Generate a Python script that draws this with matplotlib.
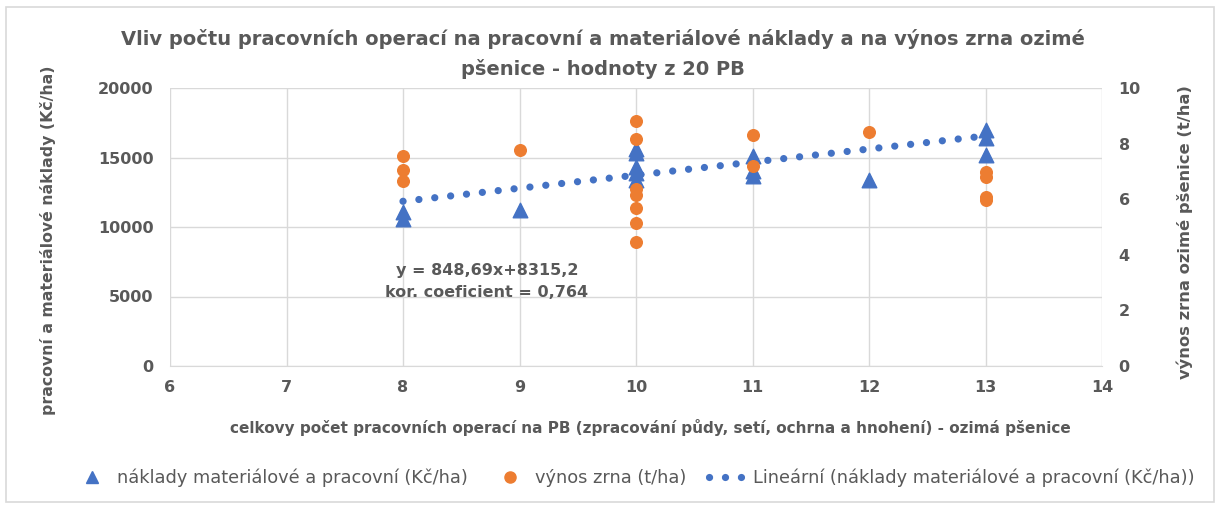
import matplotlib
matplotlib.use("Agg")
import matplotlib.pyplot as plt
from matplotlib.lines import Line2D
from matplotlib.patches import Rectangle

# ---- data ----
cost_x = [8, 8, 9, 10, 10, 10, 10, 10, 11, 11, 11, 12, 13, 13, 13]
cost_y = [11100, 10600, 11200, 15600, 15300, 14300, 13900, 13400,
          15100, 14000, 13700, 13400, 17000, 16400, 15200]
yield_x = [8, 8, 8, 9, 10, 10, 10, 10, 10, 10, 10, 11, 11, 12, 13, 13, 13, 13]
yield_y = [7.56, 7.05, 6.65, 7.77, 8.8, 8.15, 6.35, 6.15, 5.67, 5.13, 4.45,
           8.31, 7.21, 8.41, 6.99, 6.81, 6.09, 5.97]
trend_x = [8, 13]
trend_y = [11850, 16550]
x_ticks = [6, 7, 8, 9, 10, 11, 12, 13, 14]
yl_ticks = [0, 5000, 10000, 15000, 20000]
yr_ticks = [0, 2, 4, 6, 8, 10]

title = "Vliv počtu pracovních operací na pracovní a materiálové náklady a na výnos zrna ozimé\npšenice - hodnoty z 20 PB"
xlabel = "celkovy počet pracovních operací na PB (zpracování půdy, setí, ochrna a hnohení) - ozimá pšenice"
ylabel_l = "pracovní a materiálové náklady (Kč/ha)"
ylabel_r = "výnos zrna ozimé pšenice (t/ha)"
leg_labels = ["náklady materiálové a pracovní (Kč/ha)", "výnos zrna (t/ha)",
              "Lineární (náklady materiálové a pracovní (Kč/ha))"]
eq_text = "y = 848,69x+8315,2\nkor. coeficient = 0,764"

BLUE = "#4472C4"
ORANGE = "#ED7D31"
GRAY = "#595959"
GRID = "#D9D9D9"

plt.rcParams['font.family'] = ['DejaVu Sans']

W, H = 1221, 509
fig = plt.figure(figsize=(W / 100, H / 100), dpi=100)
fig.add_artist(Rectangle((6 / W, 1 - 502 / H), 1208 / W, 495 / H, transform=fig.transFigure,
                         fill=False, edgecolor="#D9D9D9", linewidth=1.2))

ax = fig.add_axes([170 / W, 1 - 366 / H, (1102 - 170) / W, (366 - 88) / H])
ax2 = ax.twinx()

ax.set_xlim(6, 14)
ax.set_ylim(0, 20000)
ax2.set_ylim(0, 10)
ax.set_xticks(x_ticks)
ax.set_yticks(yl_ticks)
ax2.set_yticks(yr_ticks)
ax.grid(True, color=GRID, linewidth=1)
ax.set_axisbelow(True)
for a in (ax, ax2):
    for s in a.spines.values():
        s.set_visible(False)
    a.tick_params(length=0, labelsize=11.5, labelcolor=GRAY)
    for lab in a.get_xticklabels() + a.get_yticklabels():
        lab.set_fontweight('bold')
ax.spines['bottom'].set_visible(True)
ax.spines['bottom'].set_color(GRID)
ax.tick_params(axis='x', pad=10)
ax.tick_params(axis='y', pad=12)
ax2.tick_params(axis='y', pad=12)

DOTS = (0, (0.01, 2.2))
ax.plot(trend_x, trend_y, color=BLUE, linewidth=5.2, linestyle=DOTS,
        dash_capstyle='round', zorder=3)
ax.scatter(cost_x, cost_y, marker='^', s=110, color=BLUE, zorder=4, clip_on=False)
ax2.scatter(yield_x, yield_y, marker='o', s=70, color=ORANGE, zorder=5, clip_on=False)
ax2.set_zorder(ax.get_zorder() + 1)
ax2.patch.set_visible(False)

ax.text(8.72, 6100, eq_text, ha='center', va='center', fontsize=11.5, color=GRAY,
        fontweight='bold', linespacing=1.55)

fig.text(0.494, 1 - 54 / H, title, ha='center', va='center', fontsize=14.0, color=GRAY,
         fontweight='bold', linespacing=1.65)
fig.text(650 / W, 1 - 427 / H, xlabel, ha='center', va='center', fontsize=11.0, color=GRAY,
         fontweight='bold')
fig.text(48 / W, 1 - 240 / H, ylabel_l, ha='center', va='center', rotation=90, fontsize=11.3,
         color=GRAY, fontweight='bold')
fig.text(1185 / W, 1 - 232 / H, ylabel_r, ha='center', va='center', rotation=90, fontsize=11.8,
         color=GRAY, fontweight='bold')

handles = [
    Line2D([], [], marker='^', linestyle='none', color=BLUE, markersize=9),
    Line2D([], [], marker='o', linestyle='none', color=ORANGE, markersize=8),
    Line2D([], [], color=BLUE, linewidth=5.2, linestyle=DOTS, dash_capstyle='round'),
]
leg = fig.legend(handles, leg_labels, loc='center', bbox_to_anchor=(634 / W, 1 - 478 / H),
                 ncol=3, frameon=False, fontsize=12.8, handlelength=2.1, columnspacing=1.3,
                 handletextpad=0.35)
for t in leg.get_texts():
    t.set_color(GRAY)

fig.savefig("out.png", dpi=100)
